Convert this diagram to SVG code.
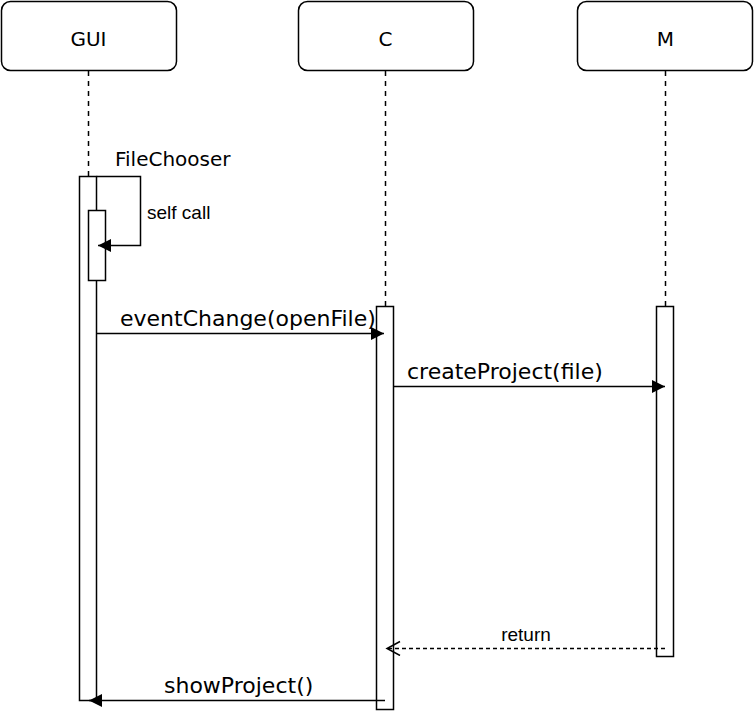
<svg xmlns="http://www.w3.org/2000/svg" width="755" height="716" viewBox="0 0 755 716">
<style>
.box{fill:#fff;stroke:#000;stroke-width:1.5}
.life{stroke:#000;stroke-width:1.5;stroke-dasharray:5 5;fill:none}
.act{fill:#fff;stroke:#000;stroke-width:1.5}
.head{font-family:"DejaVu Sans",sans-serif;font-size:20px;text-anchor:middle;fill:#000}
.msg{font-family:"DejaVu Sans",sans-serif;font-size:22px;fill:#000}
.small{font-family:"Liberation Sans",Arial,sans-serif;font-size:19px;fill:#000}
.line{stroke:#000;stroke-width:1.5;fill:none}
.dash{stroke:#000;stroke-width:1.5;fill:none;stroke-dasharray:4 3}
</style>
<defs>
<marker id="filled" markerUnits="userSpaceOnUse" markerWidth="14" markerHeight="14" refX="13" refY="6.5" orient="auto">
<path d="M0,0 L13,6.5 L0,13 z" fill="#000"/>
</marker>
<marker id="open" markerUnits="userSpaceOnUse" markerWidth="16" markerHeight="16" refX="13.5" refY="7.5" orient="auto">
<path d="M0.5,0.5 L13.5,7.5 L0.5,14.5" fill="none" stroke="#000" stroke-width="1.5"/>
</marker>
</defs>
<rect width="755" height="716" fill="#fff"/>
<g id="GUI">
<rect class="box" x="1.5" y="1.5" width="175" height="69" rx="9"/>
<text class="head" x="88.5" y="46">GUI</text>
<line class="life" x1="88.5" y1="71" x2="88.5" y2="176.5"/>
<rect class="act" x="79.5" y="176.5" width="17" height="524"/>
<rect class="act" x="88.5" y="210.5" width="17" height="70"/>
</g>
<g id="C">
<rect class="box" x="298.5" y="1.5" width="175" height="69" rx="9"/>
<text class="head" x="385.5" y="46">C</text>
<line class="life" x1="385.5" y1="71" x2="385.5" y2="306.5"/>
<rect class="act" x="376.5" y="306.5" width="17" height="403"/>
</g>
<g id="M">
<rect class="box" x="577.5" y="1.5" width="175" height="69" rx="9"/>
<text class="head" x="665.5" y="46">M</text>
<line class="life" x1="665.5" y1="71" x2="665.5" y2="306.5"/>
<rect class="act" x="656.5" y="306.5" width="17" height="350"/>
</g>
<g id="connectors">
<path class="line" d="M96.5,176.5 H140.5 V245.5 H98" marker-end="url(#filled)"/>
<text class="msg" x="115" y="166" style="font-size:20px">FileChooser</text>
<text class="small" x="147" y="219">self call</text>
<line class="line" x1="96.5" y1="333.5" x2="384" y2="333.5" marker-end="url(#filled)"/>
<text class="msg" x="120" y="326">eventChange(openFile)</text>
<line class="line" x1="393.5" y1="386.5" x2="665" y2="386.5" marker-end="url(#filled)"/>
<text class="msg" x="407" y="379">createProject(file)</text>
<line class="dash" x1="665" y1="648.5" x2="387" y2="648.5" marker-end="url(#open)"/>
<text class="small" x="526" y="640.5" text-anchor="middle">return</text>
<line class="line" x1="385" y1="700.5" x2="89" y2="700.5" marker-end="url(#filled)"/>
<text class="msg" x="164" y="693">showProject()</text>
</g>
</svg>
